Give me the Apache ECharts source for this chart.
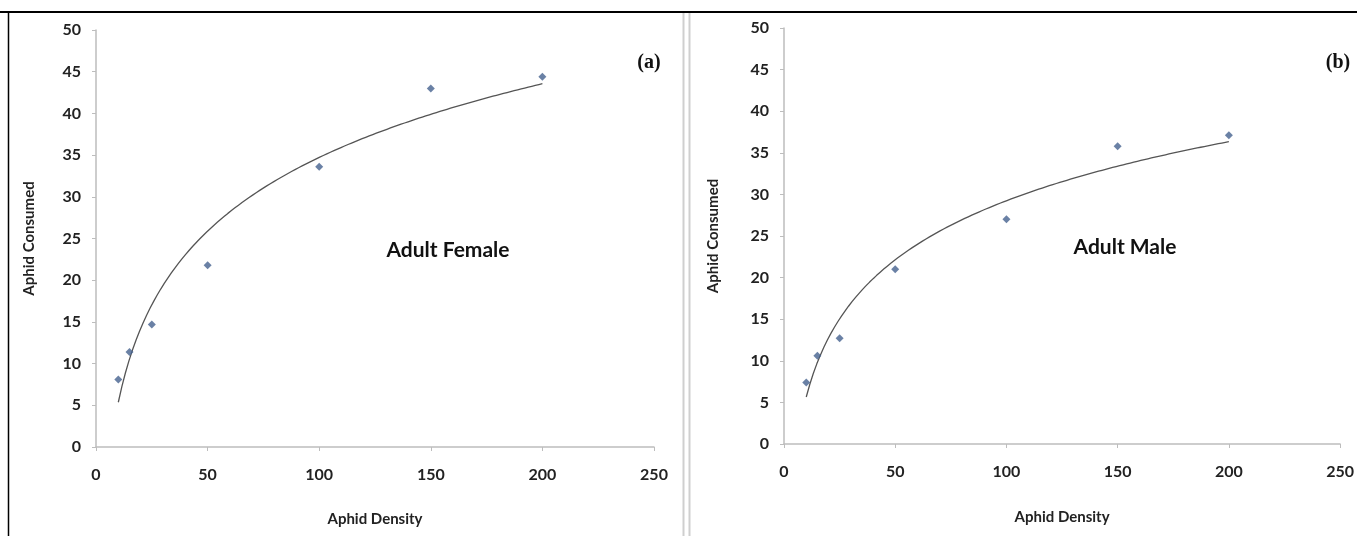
<!DOCTYPE html>
<html>
<head>
<meta charset="utf-8">
<script src="https://cdn.jsdelivr.net/npm/echarts@6/dist/echarts.min.js"></script>
<style>
html,body{margin:0;padding:0;background:#fff;}
#chart{width:1357px;height:536px;}
</style>
</head>
<body>
<div id="chart"></div>
<script>
// ---- data ----
var densities = [10, 15, 25, 50, 100, 150, 200];
var femaleConsumed = [8.1, 11.4, 14.7, 21.8, 33.6, 43.0, 44.4];
var maleConsumed = [7.4, 10.6, 12.7, 21.0, 27.0, 35.8, 37.1];
var xTicks = [0, 50, 100, 150, 200, 250];
var yTicks = [0, 5, 10, 15, 20, 25, 30, 35, 40, 45, 50];
var panelLabels = ['(a)', '(b)'];
var groupLabels = ['Adult Female', 'Adult Male'];
var xTitle = 'Aphid Density';
var yTitle = 'Aphid Consumed';

// logarithmic least-squares trendline (y = a ln x + b) fitted to the data
function logFit(xs, ys) {
  var n = xs.length, lx = xs.map(Math.log);
  var mx = lx.reduce(function(s, v){return s + v;}, 0) / n;
  var my = ys.reduce(function(s, v){return s + v;}, 0) / n;
  var sxy = 0, sxx = 0;
  for (var i = 0; i < n; i++) { sxy += (lx[i] - mx) * (ys[i] - my); sxx += (lx[i] - mx) * (lx[i] - mx); }
  var a = sxy / sxx, b = my - a * mx;
  var pts = [], x0 = xs[0], x1 = xs[n - 1];
  for (var k = 0; k <= 120; k++) {
    var x = x0 + (x1 - x0) * k / 120;
    pts.push([x, a * Math.log(x) + b]);
  }
  return pts;
}

function pairs(xs, ys) { return xs.map(function(x, i){ return [x, ys[i]]; }); }

var FONT = 'Lato, "Open Sans", sans-serif';
var axisLine = {show: true, lineStyle: {color: '#bdbdbd', width: 1.5}};
var labelStyle = {color: '#222', fontFamily: FONT, fontWeight: 'bold', fontSize: 16};
var titleStyle = {color: '#222', fontFamily: FONT, fontWeight: 'bold', fontSize: 15};

function xAxis(idx, gap) {
  return {
    type: 'value', gridIndex: idx, min: xTicks[0], max: xTicks[xTicks.length - 1], interval: 50,
    axisLine: axisLine, axisTick: {show: true, length: 4, lineStyle: {color: '#bdbdbd'}},
    splitLine: {show: false},
    axisLabel: Object.assign({margin: 20}, labelStyle),
    name: xTitle, nameLocation: 'middle', nameGap: gap,
    nameTextStyle: titleStyle
  };
}
function yAxis(idx, gap) {
  return {
    type: 'value', gridIndex: idx, min: yTicks[0], max: yTicks[yTicks.length - 1], interval: 5,
    axisLine: axisLine, axisTick: {show: true, length: 4, lineStyle: {color: '#bdbdbd'}},
    splitLine: {show: false},
    axisLabel: Object.assign({margin: 15}, labelStyle),
    name: yTitle, nameLocation: 'middle', nameGap: gap, nameRotate: 90,
    nameTextStyle: titleStyle
  };
}

var markerColor = '#45628f';
var chart = echarts.init(document.getElementById('chart'), null, {renderer: 'canvas'});
chart.setOption({
  animation: false,
  backgroundColor: '#fff',
  grid: [
    {left: 96, top: 30, width: 558, height: 417},
    {left: 784, top: 28, width: 557, height: 416}
  ],
  xAxis: [xAxis(0, 65), xAxis(1, 66)],
  yAxis: [yAxis(0, 59), yAxis(1, 63)],
  series: [
    {type: 'line', xAxisIndex: 0, yAxisIndex: 0, data: logFit(densities, femaleConsumed), showSymbol: false,
     lineStyle: {color: '#555', width: 1.3}, z: 2},
    {type: 'scatter', xAxisIndex: 0, yAxisIndex: 0, data: pairs(densities, femaleConsumed), symbol: 'diamond',
     symbolSize: 8, itemStyle: {color: markerColor}, z: 3},
    {type: 'line', xAxisIndex: 1, yAxisIndex: 1, data: logFit(densities, maleConsumed), showSymbol: false,
     lineStyle: {color: '#555', width: 1.3}, z: 2},
    {type: 'scatter', xAxisIndex: 1, yAxisIndex: 1, data: pairs(densities, maleConsumed), symbol: 'diamond',
     symbolSize: 8, itemStyle: {color: markerColor}, z: 3}
  ],
  graphic: [
    {type: 'line', shape: {x1: 0, y1: 12, x2: 1357, y2: 12}, style: {stroke: '#000', lineWidth: 2}},
    {type: 'line', shape: {x1: 8.5, y1: 12, x2: 8.5, y2: 536}, style: {stroke: '#000', lineWidth: 1.5}},
    {type: 'line', shape: {x1: 683.5, y1: 13, x2: 683.5, y2: 536}, style: {stroke: '#cfcfcf', lineWidth: 2}},
    {type: 'line', shape: {x1: 689.5, y1: 13, x2: 689.5, y2: 536}, style: {stroke: '#cfcfcf', lineWidth: 2}},
    {type: 'text', x: 649, y: 63, style: {text: panelLabels[0], font: 'bold 20px "Liberation Serif", serif', fill: '#111', align: 'center', verticalAlign: 'middle'}},
    {type: 'text', x: 1338, y: 63, style: {text: panelLabels[1], font: 'bold 20px "Liberation Serif", serif', fill: '#111', align: 'center', verticalAlign: 'middle'}},
    {type: 'text', x: 448, y: 250, style: {text: groupLabels[0], font: 'bold 21px ' + FONT, fill: '#111', align: 'center', verticalAlign: 'middle'}},
    {type: 'text', x: 1125, y: 247, style: {text: groupLabels[1], font: 'bold 21px ' + FONT, fill: '#111', align: 'center', verticalAlign: 'middle'}}
  ]
});
</script>
</body>
</html>
